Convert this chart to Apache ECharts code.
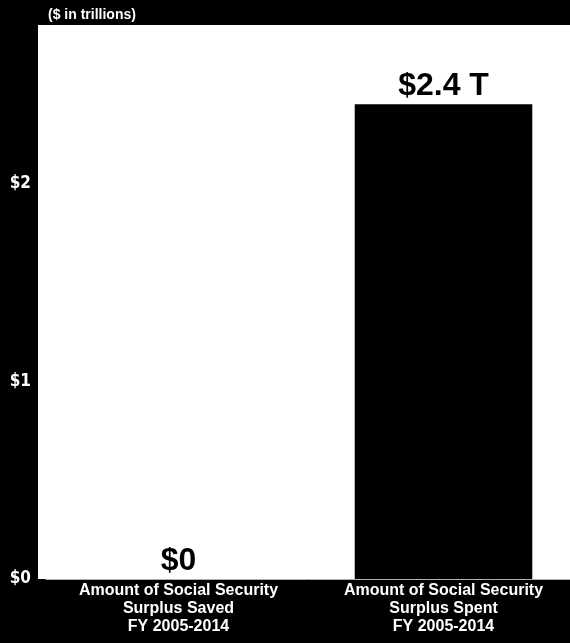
<!DOCTYPE html>
<html>
<head>
<meta charset="utf-8">
<style>
  html, body { margin: 0; padding: 0; background: #000; }
  #chart { width: 570px; height: 643px; }
</style>
<script src="https://cdn.jsdelivr.net/npm/echarts@6/dist/echarts.min.js"></script>
</head>
<body>
<div id="chart"></div>
<script>
// Social Security surplus, FY 2005-2014 ($ trillions)
const categories = [
  'Amount of Social Security\nSurplus Saved\nFY 2005-2014',
  'Amount of Social Security\nSurplus Spent\nFY 2005-2014'
];
const amounts = [0, 2.4];
const valueLabels = ['$0', '$2.4 T'];
const yTicks = [0, 1, 2];

const chart = echarts.init(document.getElementById('chart'), null, { renderer: 'canvas' });

chart.setOption({
  backgroundColor: '#000',
  animation: false,
  title: {
    text: '($ in trillions)',
    left: 43,
    top: 3,
    textStyle: {
      color: '#fff',
      fontFamily: 'Liberation Sans, Arial, sans-serif',
      fontWeight: 'bold',
      fontSize: 14
    }
  },
  graphic: [{
    // white plotting panel behind the bars
    type: 'rect',
    z: -10,
    silent: true,
    shape: { x: 38, y: 25, width: 532, height: 554 },
    style: { fill: '#fff' }
  }],
  grid: {
    left: 46,
    width: 530,
    top: 25,
    bottom: 64,
    outerBoundsMode: 'none'
  },
  xAxis: {
    type: 'category',
    data: categories,
    axisTick: { show: false },
    axisLine: { show: true, lineStyle: { color: '#b0b0b0', width: 1 } },
    axisLabel: {
      color: '#fff',
      fontFamily: 'Liberation Sans, Arial, sans-serif',
      fontWeight: 'bold',
      fontSize: 16,
      lineHeight: 18,
      margin: 3,
      interval: 0
    }
  },
  yAxis: {
    type: 'value',
    min: 0,
    max: 2.8,
    interval: 1,
    splitLine: { show: false },
    axisLine: { show: false },
    axisTick: { show: false },
    axisLabel: {
      color: '#fff',
      fontFamily: 'DejaVu Sans Condensed, sans-serif',
      fontWeight: 'bold',
      fontSize: 17,
      margin: 15,
      formatter: function (v) {
        return yTicks.indexOf(v) >= 0 ? '$' + v : '';
      }
    }
  },
  series: [{
    type: 'bar',
    data: amounts,
    barWidth: '67%',
    itemStyle: { color: '#000' },
    label: {
      show: true,
      position: 'top',
      distance: 2,
      color: '#000',
      fontFamily: 'Liberation Sans, Arial, sans-serif',
      fontWeight: 'bold',
      fontSize: 32,
      formatter: function (p) { return valueLabels[p.dataIndex]; }
    }
  }]
});
</script>
</body>
</html>
